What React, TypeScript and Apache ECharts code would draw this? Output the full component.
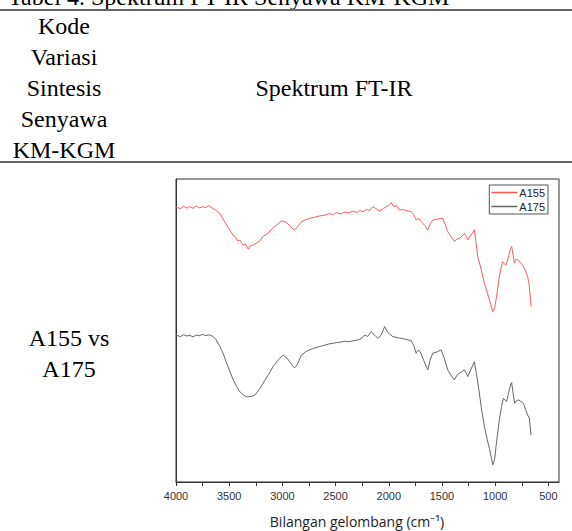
import React, { useEffect, useRef } from "react";
import * as echarts from "echarts";

const seriesNames = ["A155", "A175"];

const waveA155 = [4000, 3960, 3930, 3900, 3870, 3840, 3810, 3780, 3750, 3720, 3690, 3660, 3630, 3587, 3550, 3510, 3465, 3440, 3420, 3400, 3370, 3350, 3322, 3300, 3270, 3243, 3210, 3184, 3140, 3090, 3050, 3020, 2996, 2960, 2931, 2900, 2884, 2860, 2821, 2780, 2740, 2700, 2649, 2600, 2560, 2520, 2493, 2450, 2410, 2380, 2340, 2300, 2274, 2240, 2211, 2180, 2149, 2120, 2086, 2050, 2020, 1995, 1977, 1950, 1930, 1899, 1860, 1830, 1789, 1765, 1742, 1720, 1695, 1660, 1633, 1610, 1586, 1540, 1493, 1470, 1446, 1410, 1383, 1360, 1336, 1310, 1289, 1270, 1258, 1230, 1195, 1180, 1164, 1130, 1101, 1075, 1054, 1035, 1023, 1005, 992, 975, 961, 945, 930, 915, 899, 880, 867, 855, 845, 832, 820, 805, 789, 765, 742, 720, 695, 680, 663];
const transA155 = [90.8, 90.2, 91.0, 90.4, 90.9, 90.3, 91.1, 90.5, 90.8, 90.6, 91.2, 90.4, 89.8, 88.6, 86.3, 84.0, 81.5, 80.8, 79.6, 79.8, 78.2, 78.6, 76.9, 78.0, 78.3, 78.9, 79.6, 81.0, 82.0, 83.8, 84.9, 85.8, 86.2, 85.6, 84.6, 83.5, 83.2, 84.1, 85.9, 86.6, 87.0, 87.4, 87.8, 88.1, 88.6, 88.3, 88.9, 88.5, 89.1, 88.8, 89.3, 89.0, 89.6, 89.2, 90.0, 89.6, 90.9, 90.2, 89.4, 90.3, 90.9, 91.4, 92.2, 90.8, 91.3, 89.8, 89.9, 89.5, 89.2, 88.2, 86.5, 87.0, 85.9, 84.6, 83.2, 85.2, 86.5, 86.8, 87.0, 85.0, 82.6, 80.8, 79.3, 80.2, 80.4, 81.2, 82.1, 81.0, 79.9, 81.3, 83.2, 79.0, 74.4, 70.0, 65.6, 62.5, 60.1, 57.8, 56.2, 57.5, 60.1, 64.0, 67.8, 70.5, 72.7, 72.0, 71.6, 73.5, 75.5, 77.0, 77.7, 75.0, 72.2, 73.5, 73.3, 72.5, 71.6, 70.2, 67.8, 65.0, 57.9];

const waveA175 = [4000, 3960, 3930, 3900, 3870, 3840, 3810, 3780, 3750, 3720, 3690, 3660, 3630, 3587, 3550, 3524, 3490, 3462, 3430, 3400, 3370, 3340, 3322, 3290, 3259, 3220, 3181, 3130, 3087, 3040, 2993, 2960, 2931, 2900, 2884, 2860, 2821, 2780, 2740, 2700, 2649, 2600, 2560, 2520, 2493, 2450, 2410, 2380, 2337, 2300, 2274, 2250, 2227, 2200, 2165, 2130, 2102, 2070, 2039, 2010, 1990, 1962, 1900, 1850, 1789, 1765, 1742, 1725, 1705, 1670, 1633, 1610, 1586, 1540, 1508, 1480, 1446, 1410, 1383, 1360, 1336, 1310, 1289, 1270, 1258, 1230, 1195, 1175, 1155, 1130, 1101, 1075, 1054, 1035, 1023, 1005, 992, 975, 961, 940, 923, 905, 892, 880, 867, 855, 845, 830, 817, 800, 779, 755, 735, 715, 695, 679, 663];
const transA175 = [48.5, 48.0, 48.6, 48.2, 48.4, 47.9, 48.5, 48.3, 48.7, 48.3, 48.6, 48.2, 47.3, 44.7, 41.8, 39.2, 36.2, 33.7, 31.5, 29.8, 28.8, 28.2, 28.1, 28.3, 28.7, 30.4, 32.6, 35.5, 38.1, 40.3, 41.9, 41.0, 39.7, 38.1, 37.7, 38.8, 41.9, 43.0, 43.7, 44.2, 44.7, 45.2, 45.6, 45.8, 46.0, 46.2, 46.5, 46.3, 46.6, 46.8, 47.1, 47.6, 48.5, 48.0, 49.6, 48.4, 47.4, 48.6, 51.3, 49.4, 48.8, 48.0, 47.5, 47.2, 46.6, 45.0, 42.5, 43.5, 43.0, 40.0, 37.0, 40.5, 42.5, 43.0, 43.6, 41.0, 37.0, 35.0, 33.7, 35.2, 35.9, 36.5, 37.0, 35.8, 34.8, 37.0, 39.7, 35.5, 30.9, 24.5, 18.3, 14.0, 11.1, 7.8, 5.6, 7.5, 11.7, 16.5, 20.5, 25.0, 27.6, 27.0, 26.5, 28.5, 30.4, 32.0, 32.8, 29.0, 26.0, 26.8, 27.1, 26.5, 26.0, 24.0, 22.1, 21.1, 15.5];

const xTickLabels = [500, 1000, 1500, 2000, 2500, 3000, 3500, 4000];
const xTickMarks = [500, 750, 1000, 1250, 1500, 1750, 2000, 2250, 2500, 2750, 3000, 3250, 3500, 3750, 4000];

const headerLines = ["Kode", "Variasi", "Sintesis", "Senyawa", "KM-KGM"];
const rowLabelLines = ["A155 vs", "A175"];

const SERIF = "Liberation Serif";
const SANS = "Liberation Sans";

export default function App() {
  const ref = useRef<HTMLDivElement>(null);
  useEffect(() => {
    if (!ref.current) return;
    const chart = echarts.init(ref.current, null, { renderer: "svg" });
    const pair = (w: number[], v: number[]) => w.map((x, i) => [x, v[i]]);
    const serifText = (t: string, x: number, y: number, align = "center") => ({
      type: "text",
      x,
      y,
      style: { text: t, fontFamily: SERIF, fontSize: 24, fill: "#000", align, verticalAlign: "middle" },
    });
    const graphic: any[] = [
      serifText("Tabel 4. Spektrum FT-IR Senyawa KM-KGM", 8, -3, "left"),
      { type: "line", shape: { x1: 0, y1: 10, x2: 572, y2: 10 }, style: { stroke: "#666", lineWidth: 2 } },
      { type: "line", shape: { x1: 0, y1: 162, x2: 572, y2: 162 }, style: { stroke: "#666", lineWidth: 2 } },
      ...headerLines.map((t, i) => serifText(t, 64, 26 + i * 31)),
      serifText("Spektrum FT-IR", 334, 88),
      ...rowLabelLines.map((t, i) => serifText(t, 69, 338 + i * 31)),
      {
        type: "text",
        x: 357,
        y: 521,
        style: { text: "Bilangan gelombang (cm⁻¹)", fontFamily: "Open Sans", fontSize: 14, fill: "#222", align: "center", verticalAlign: "middle" },
      },
    ];
    chart.setOption({
      animation: false,
      backgroundColor: "#fff",
      grid: { left: 176, top: 179, right: 13, bottom: 49, show: true, borderColor: "#333", borderWidth: 1, backgroundColor: "transparent" },
      legend: {
        data: seriesNames.map((n) => ({ name: n, icon: "rect" })),
        orient: "vertical",
        right: 24,
        top: 185,
        itemWidth: 26,
        itemHeight: 1.5,
        itemGap: 3,
        padding: [2, 3, 2, 2],
        borderColor: "#555",
        borderWidth: 1,
        textStyle: { fontFamily: SANS, fontSize: 11, color: "#222", padding: [0, 0, 0, -3] },
      },
      xAxis: {
        type: "value",
        inverse: true,
        min: 400,
        max: 4000,
        axisLine: { show: true, lineStyle: { color: "#333", width: 1 } },
        axisTick: { show: true, inside: false, length: 4, lineStyle: { color: "#333" }, customValues: xTickMarks },
        axisLabel: { customValues: xTickLabels, formatter: (v: number) => String(v), fontFamily: SANS, fontSize: 11, color: "#333", margin: 8 },
        splitLine: { show: false },
      },
      yAxis: {
        type: "value",
        min: 0,
        max: 100,
        axisLine: { show: true, lineStyle: { color: "#333" } },
        axisTick: { show: false },
        axisLabel: { show: false },
        splitLine: { show: false },
      },
      series: [
        {
          name: seriesNames[0],
          type: "line",
          data: pair(waveA155, transA155),
          symbol: "none",
          lineStyle: { color: "#ff5a5a", width: 1 },
          itemStyle: { color: "#ff5a5a" },
        },
        {
          name: seriesNames[1],
          type: "line",
          data: pair(waveA175, transA175),
          symbol: "none",
          lineStyle: { color: "#666", width: 1 },
          itemStyle: { color: "#666" },
        },
      ],
      graphic,
    });
    return () => chart.dispose();
  }, []);
  return <div ref={ref} style={{ position: "absolute", left: 0, top: 0, width: 572, height: 531, background: "#fff" }} />;
}
